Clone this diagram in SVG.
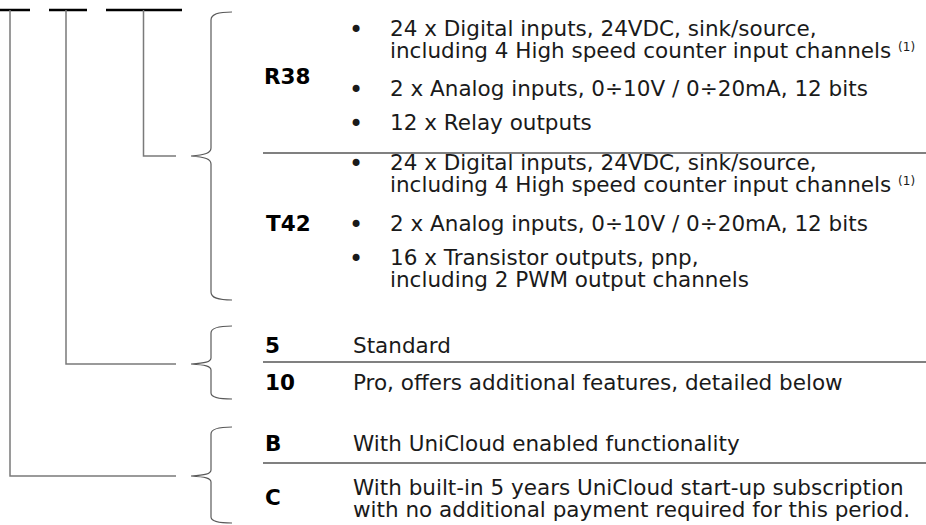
<svg xmlns="http://www.w3.org/2000/svg" width="926" height="525" viewBox="0 0 926 525">
<style>
.t{font-family:"DejaVu Sans",Verdana,sans-serif;font-size:21.5px;fill:#1a1a1a}
.b{font-weight:bold;fill:#000}
.bul{text-anchor:middle;font-size:24px}
.sup{font-size:12px}
.sep{stroke:#808080;stroke-width:2;fill:none}
.bar{stroke:#000;stroke-width:2.5;fill:none}
.con{stroke:#7a7a7a;stroke-width:1.5;fill:none}
.brace{stroke:#5a5a5a;stroke-width:1.2;fill:none}
</style>
<rect width="926" height="525" fill="#fff"/>
<g id="code-bars">
<line class="bar" x1="0" y1="10" x2="30" y2="10"/>
<line class="bar" x1="49" y1="10" x2="87" y2="10"/>
<line class="bar" x1="106" y1="10" x2="182" y2="10"/>
</g>
<g id="connectors">
<path class="con" d="M10,10 V476 H176"/>
<path class="con" d="M66,10 V364 H176"/>
<path class="con" d="M143.5,10 V156 H176"/>
<path class="brace" d="M232,12 C218,12 211,14 211,20 L211,148 C211,153 205,155 191,156 C205,157 211,159 211,164 L211,292 C211,298 218,300 232,300"/>
<path class="brace" d="M232,326 C218,326 211,328 211,333 L211,358 C211,362 205,363 191,364 C205,365 211,366 211,370 L211,393 C211,397 218,399 232,399"/>
<path class="brace" d="M232,427 C218,427 211,429 211,434 L211,470 C211,474 205,475 191,476 C205,477 211,478 211,482 L211,517 C211,521 218,523 232,523"/>
</g>
<g id="opt-R38">
<text class="t b" x="264" y="84">R38</text>
<text class="t bul" x="356" y="38">•</text>
<text class="t" x="390" y="36">24 x Digital inputs, 24VDC, sink/source,<tspan x="390" dy="22">including 4 High speed counter input channels </tspan><tspan class="sup" dy="-7">(1)</tspan></text>
<text class="t bul" x="356" y="98">•</text>
<text class="t" x="390" y="96">2 x Analog inputs, 0÷10V / 0÷20mA, 12 bits</text>
<text class="t bul" x="356" y="132">•</text>
<text class="t" x="390" y="130">12 x Relay outputs</text>
</g>
<line class="sep" x1="263" y1="153" x2="926" y2="153"/>
<g id="opt-T42">
<text class="t b" x="266" y="231">T42</text>
<text class="t bul" x="356" y="172">•</text>
<text class="t" x="390" y="170">24 x Digital inputs, 24VDC, sink/source,<tspan x="390" dy="22">including 4 High speed counter input channels </tspan><tspan class="sup" dy="-7">(1)</tspan></text>
<text class="t bul" x="356" y="233">•</text>
<text class="t" x="390" y="231">2 x Analog inputs, 0÷10V / 0÷20mA, 12 bits</text>
<text class="t bul" x="356" y="267">•</text>
<text class="t" x="390" y="265">16 x Transistor outputs, pnp,<tspan x="390" dy="22">including 2 PWM output channels</tspan></text>
</g>
<g id="opt-5">
<text class="t b" x="265" y="353">5</text>
<text class="t" x="353" y="353">Standard</text>
</g>
<line class="sep" x1="263" y1="362" x2="926" y2="362"/>
<g id="opt-10">
<text class="t b" x="265" y="390">10</text>
<text class="t" x="353" y="390">Pro, offers additional features, detailed below</text>
</g>
<g id="opt-B">
<text class="t b" x="265" y="451">B</text>
<text class="t" x="353" y="451">With UniCloud enabled functionality</text>
</g>
<line class="sep" x1="263" y1="463" x2="926" y2="463"/>
<g id="opt-C">
<text class="t b" x="265" y="505">C</text>
<text class="t" x="353" y="495">With built-in 5 years UniCloud start-up subscription<tspan x="353" dy="22">with no additional payment required for this period.</tspan></text>
</g>
</svg>
